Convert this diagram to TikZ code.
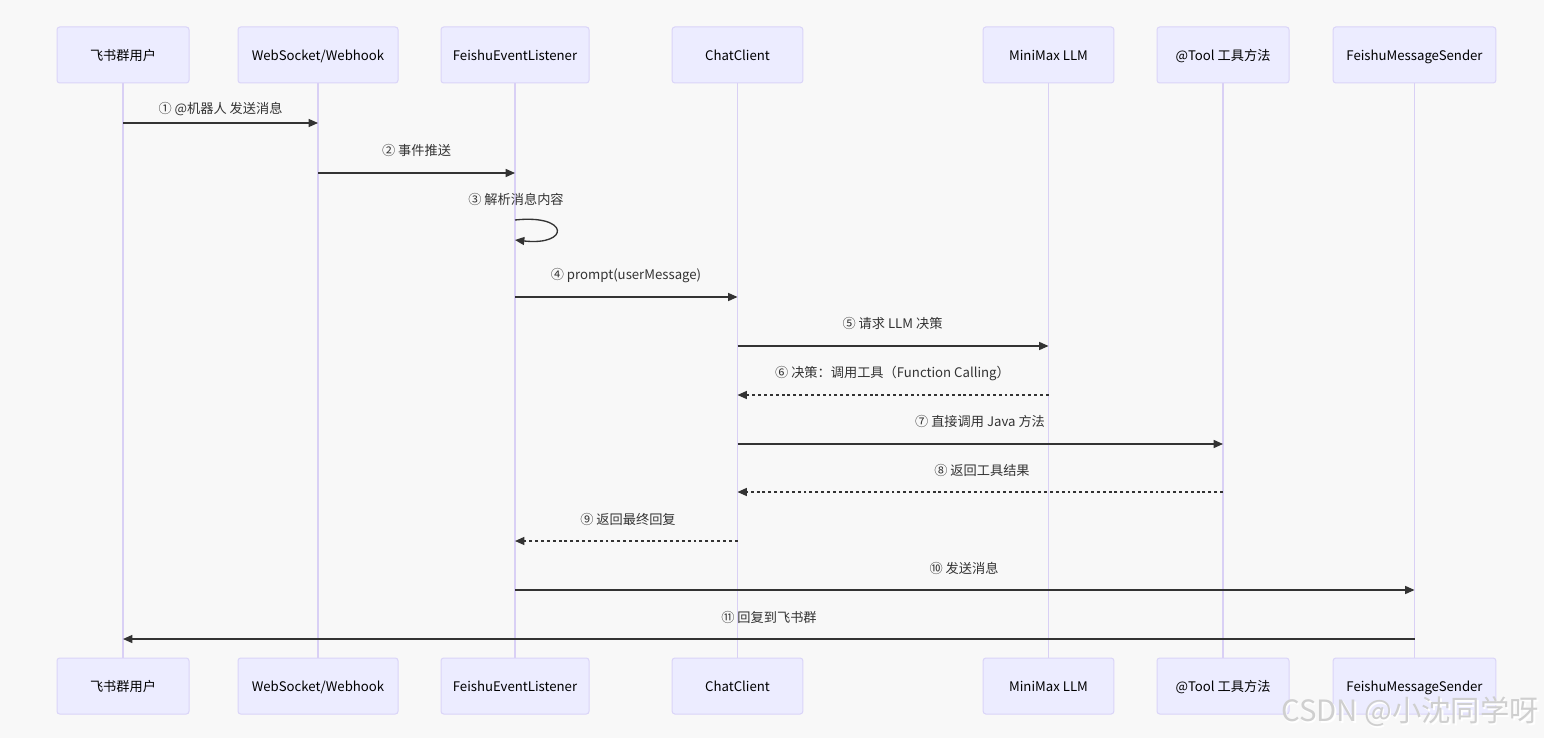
\documentclass[tikz,border=0pt]{standalone}
\usepackage{fontspec}
\setmainfont{Noto Sans CJK SC}
\usetikzlibrary{arrows.meta}
\definecolor{bg}{HTML}{F8F8F8}
\definecolor{boxfill}{HTML}{ECECFF}
\definecolor{boxline}{HTML}{DAD4F8}
\definecolor{lifec}{HTML}{D9D0F5}
\definecolor{msgc}{HTML}{333333}
\definecolor{wm}{HTML}{CFCFCF}
\tikzset{
  actor/.style={draw=boxline, fill=boxfill, line width=0.75pt, rounded corners=2pt,
    minimum height=42pt, inner sep=0pt, text height=9.6pt, text depth=1.2pt,
    font=\fontsize{9.9pt}{11pt}\selectfont, text=black},
  life/.style={draw=lifec, line width=0.9pt},
  msg/.style={draw=msgc, line width=1pt, -{Triangle[length=7pt,width=6pt]}},
  reply/.style={msg, dash pattern=on 2.2pt off 2.2pt},
  lbl/.style={text=msgc, font=\fontsize{9.9pt}{11pt}\selectfont, inner sep=0pt,
    text height=9.6pt, text depth=1.2pt, anchor=center},
}
\begin{document}
\begin{tikzpicture}[x=0.75pt, y=-0.75pt]
\useasboundingbox (0,0) rectangle (1544,738);
\fill[bg] (0,0) rectangle (1544,738);
% actors top
\node[actor, minimum width=99pt]  (t1) at (123,55) {飞书群用户};
\node[actor, minimum width=120pt] (t2) at (318,55) {WebSocket/Webhook};
\node[actor, minimum width=111pt] (t3) at (515,55) {FeishuEventListener};
\node[actor, minimum width=98pt]  (t4) at (737.5,55) {ChatClient};
\node[actor, minimum width=98pt]  (t5) at (1048.5,55) {MiniMax LLM};
\node[actor, minimum width=99pt]  (t6) at (1223,55) {@Tool 工具方法};
\node[actor, minimum width=122pt] (t7) at (1414.5,55) {FeishuMessageSender};
% actors bottom
\node[actor, minimum width=99pt]  (b1) at (123,686) {飞书群用户};
\node[actor, minimum width=120pt] (b2) at (318,686) {WebSocket/Webhook};
\node[actor, minimum width=111pt] (b3) at (515,686) {FeishuEventListener};
\node[actor, minimum width=98pt]  (b4) at (737.5,686) {ChatClient};
\node[actor, minimum width=98pt]  (b5) at (1048.5,686) {MiniMax LLM};
\node[actor, minimum width=99pt]  (b6) at (1223,686) {@Tool 工具方法};
\node[actor, minimum width=122pt] (b7) at (1414.5,686) {FeishuMessageSender};
% lifelines
\foreach \i in {1,...,7} { \draw[life] (t\i.south) -- (b\i.north); }
% messages
\draw[msg] (t1 |- 0,123) -- (t2 |- 0,123);
\node[lbl] (l1) at (220.5,108) {① @机器人 发送消息};
\draw[msg] (t2 |- 0,173) -- (t3 |- 0,173);
\node[lbl] (l2) at (416.5,150) {② 事件推送};
\node[lbl] (l3) at (516,199) {③ 解析消息内容};
\draw[msg] (t3 |- 0,220) .. controls (570,214) and (570,246) .. (t3 |- 0,240);
\draw[msg] (t3 |- 0,297) -- (t4 |- 0,297);
\node[lbl] (l4) at (626,274) {④ prompt(userMessage)};
\draw[msg] (t4 |- 0,346) -- (t5 |- 0,346);
\node[lbl] (l5) at (892.5,323) {⑤ 请求 LLM 决策};
\draw[reply] (t5 |- 0,395) -- (t4 |- 0,395);
\node[lbl] (l6) at (892.5,372) {⑥ 决策：调用工具（Function Calling）};
\draw[msg] (t4 |- 0,444) -- (t6 |- 0,444);
\node[lbl] (l7) at (980,421) {⑦ 直接调用 Java 方法};
\draw[reply] (t6 |- 0,492) -- (t4 |- 0,492);
\node[lbl] (l8) at (982,470) {⑧ 返回工具结果};
\draw[reply] (t4 |- 0,541) -- (t3 |- 0,541);
\node[lbl] (l9) at (628,519) {⑨ 返回最终回复};
\draw[msg] (t3 |- 0,590) -- (t7 |- 0,590);
\node[lbl] (l10) at (964,568) {⑩ 发送消息};
\draw[msg] (t7 |- 0,639) -- (t1 |- 0,639);
\node[lbl] (l11) at (769,617) {⑪ 回复到飞书群};
% watermark
\node[text=white, font=\fontsize{22pt}{24pt}\selectfont, inner sep=0pt] (wmks) at (1411.5,713.5) {CSDN @小沈同学呀};
\node[text=wm, font=\fontsize{22pt}{24pt}\selectfont, inner sep=0pt] (wmk) at (1410,712) {CSDN @小沈同学呀};
\end{tikzpicture}
\end{document}
